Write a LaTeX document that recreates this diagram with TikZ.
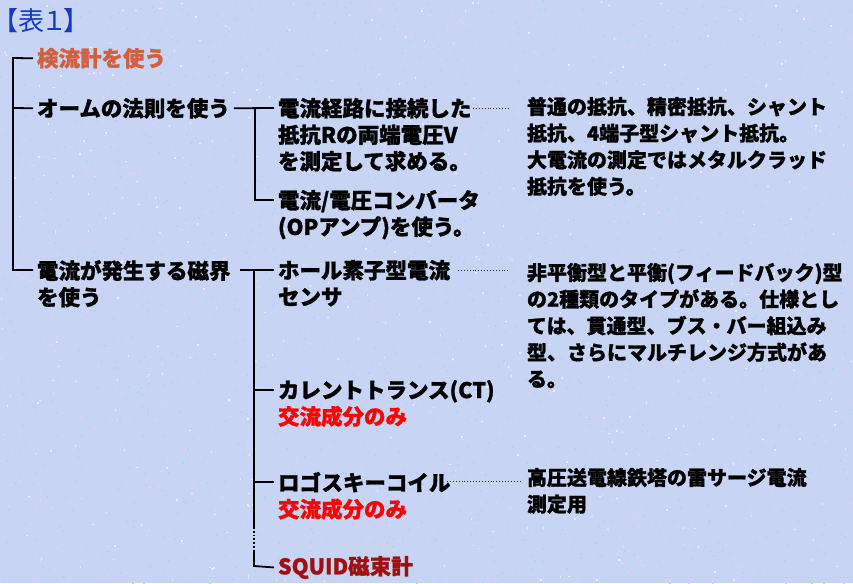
\documentclass[tikz,border=0pt]{standalone}
\usepackage{fontspec}
\setmainfont{Noto Sans CJK JP}[BoldFeatures={FakeBold=1.2}]
\newfontfamily\titlefont{Noto Sans CJK JP}[RawFeature=+palt]
\usetikzlibrary{calc}
\definecolor{bgc}{RGB}{200,212,244}
\definecolor{bgA}{RGB}{178,212,250}
\definecolor{bgB}{RGB}{222,208,240}
\definecolor{bgW}{RGB}{240,236,250}
\definecolor{bgP}{RGB}{228,198,222}
\definecolor{titleblue}{RGB}{20,60,190}
\definecolor{salmon}{RGB}{208,96,64}
\definecolor{darkred}{RGB}{160,16,16}
\definecolor{purered}{RGB}{255,0,0}
\begin{document}
\begin{tikzpicture}[x=1pt,y=-1pt,
  lbl/.style={anchor=north west, inner sep=0pt, outer sep=0pt, align=left,
    font=\fontsize{21.5}{26.5}\selectfont\bfseries},
  desc/.style={lbl, font=\fontsize{20}{26.6}\selectfont\bfseries},
  tree/.style={line width=1.8pt, black},
  leader/.style={line width=0.9pt, dotted, black!80}]
\fill[bgc] (0,0) rectangle (853,583);
\useasboundingbox (0,0) rectangle (853,583);
\pgfmathsetseed{7}
\foreach \i in {1,...,1200} {\fill[bgA] (rnd*853, rnd*583) rectangle +(2,2);}
\foreach \i in {1,...,1200} {\fill[bgB] (rnd*853, rnd*583) rectangle +(2,2);}
\foreach \i in {1,...,500} {\fill[bgW] (rnd*853, rnd*583) rectangle +(1.5,1.5);}
\foreach \i in {1,...,300} {\fill[bgP] (rnd*853, rnd*583) rectangle +(1.5,1.5);}

% title
\node[anchor=west, inner sep=0pt, font=\titlefont\fontsize{26}{30}\selectfont, text=titleblue] (t) at (5,21) {【表１】};

% level 1
\node[lbl, text=salmon] (a) at (37,48) {検流計を使う};
\node[lbl] (b) at (37,98) {オームの法則を使う};
\node[lbl] (c) at (37,260) {電流が発生する磁界\\を使う};

% level 2 (Ohm)
\node[lbl] (b1) at (278,98) {電流経路に接続した\\抵抗Rの両端電圧V\\を測定して求める。};
\node[lbl] (b2) at (278,190) {電流/電圧コンバータ\\(OPアンプ)を使う。};
\node[desc] (bd) at (527,97) {普通の抵抗、精密抵抗、シャント\\抵抗、4端子型シャント抵抗。\\大電流の測定ではメタルクラッド\\抵抗を使う。};

% level 2 (magnetic field)
\node[lbl] (c1) at (278,260) {ホール素子型電流\\センサ};
\node[lbl] (c2) at (278,380) {カレントトランス(CT)\\\textcolor{purered}{交流成分のみ}};
\node[lbl] (c3) at (278,472) {ロゴスキーコイル\\\textcolor{purered}{交流成分のみ}};
\node[lbl, text=darkred] (c4) at (278,556) {SQUID磁束計};
\node[desc] (cd1) at (527,263) {非平衡型と平衡(フィードバック)型\\の2種類のタイプがある。仕様とし\\ては、貫通型、ブス・バー組込み\\型、さらにマルチレンジ方式があ\\る。};
\node[desc] (cd3) at (527,468) {高圧送電線鉄塔の雷サージ電流\\測定用};

% trunk
\coordinate (r0) at (13,58);
\coordinate (r1) at (13,108);
\coordinate (r2) at (13,270);
\draw[tree] ([xshift=-4pt]a.west) -- (r0) -- (r2) -- ([xshift=-4pt,yshift=-10pt]c.north west);
\draw[tree] (r1) -- ([xshift=-4pt]b.west);

% Ohm branch
\coordinate (jb) at (255,108);
\coordinate (jb2) at (255,200);
\draw[tree] ([xshift=4pt]b.east) -- ([xshift=-4pt,yshift=-10pt]b1.north west);
\draw[tree] (jb) -- (jb2) -- ([xshift=-4pt,yshift=-10pt]b2.north west);

% field branch
\coordinate (jc) at (254,270);
\coordinate (jc2) at (254,390);
\coordinate (jc3) at (254,482);
\coordinate (jcs) at (254,527);
\coordinate (jcd) at (254,551);
\coordinate (jc4) at (254,566);
\draw[tree] (240,270) -- ([xshift=-4pt,yshift=-10pt]c1.north west);
\draw[tree] (jc) -- (jcs);
\draw[tree, dotted, line width=1.6pt] (jcs) -- (jcd);
\draw[tree] (jcd) -- (jc4) -- ([xshift=-4pt]c4.west);
\draw[tree] (jc2) -- ([xshift=-4pt,yshift=-10pt]c2.north west);
\draw[tree] (jc3) -- ([xshift=-4pt,yshift=-10pt]c3.north west);

% leaders
\coordinate (l1) at (473,108);
\coordinate (l2) at (458,270);
\coordinate (l3) at (447,481);
\draw[leader] (l1) -- ([xshift=-19pt,yshift=-11pt]bd.north west);
\draw[leader] (l2) -- ([xshift=-19pt,yshift=-7pt]cd1.north west);
\draw[leader] (l3) -- ([xshift=-5pt,yshift=-13pt]cd3.north west);
\end{tikzpicture}
\end{document}
